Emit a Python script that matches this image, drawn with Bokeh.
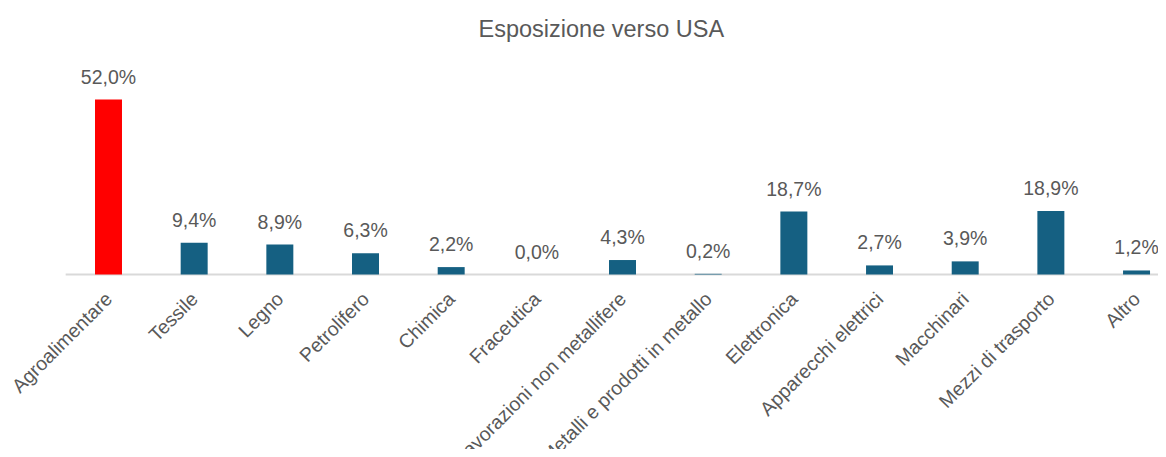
import math
from bokeh.plotting import figure
from bokeh.models import Range1d, ColumnDataSource
from bokeh.core.properties import value
from bokeh.embed import file_html
from bokeh.resources import INLINE

# ---- data ----
categories = ["Agroalimentare", "Tessile", "Legno", "Petrolifero", "Chimica",
              "Fraceutica", "Lavorazioni non metallifere",
              "Metalli e prodotti in metallo", "Elettronica",
              "Apparecchi elettrici", "Macchinari", "Mezzi di trasporto", "Altro"]
values = [52.0, 9.4, 8.9, 6.3, 2.2, 0.0, 4.3, 0.2, 18.7, 2.7, 3.9, 18.9, 1.2]
title_text = "Esposizione verso USA"

# ---- styles ----
FONT = "Liberation Sans"
TXT = "#595959"
RED = "#FF0000"
BLUE = "#156082"

n = len(categories)
xs = list(range(n))
labels = [f"{v:.1f}".replace(".", ",") + "%" for v in values]
colors = [RED if i == 0 else BLUE for i in range(n)]

src = ColumnDataSource(dict(x=xs, v=values, lab=labels, cat=categories, color=colors))

W, H = 1158, 449
px_per_cat = 85.67
first_center = 108
x_start = -first_center / px_per_cat
x_end = x_start + W / px_per_cat
top_border = 46
base_y = 274
s = 3.365
y_end = (base_y - top_border) / s
y_start = y_end - (H - top_border) / s

p = figure(width=W, height=H, x_range=Range1d(x_start, x_end), y_range=Range1d(y_start, y_end),
           output_backend="svg", toolbar_location=None, min_border=0,
           min_border_top=top_border, title=title_text)
p.title.align = "left"
p.title.offset = 478
p.title.text_font = FONT
p.title.text_font_size = "23.5px"
p.title.text_font_style = "normal"
p.title.text_color = TXT
p.axis.visible = False
p.grid.visible = False
p.outline_line_color = None
p.background_fill_color = "white"
p.border_fill_color = "white"

# baseline (category axis line)
p.segment(x0=-0.5, y0=0, x1=x_end, y1=0, line_color="#D9D9D9", line_width=2)

p.vbar(x="x", top="v", bottom=0, width=0.315, fill_color="color", line_color=None, source=src)

p.text(x="x", y="v", text="lab", source=src, text_align="center", text_baseline="middle",
       y_offset=-23, text_font=value(FONT), text_font_size="19.5px", text_color=TXT)

p.text(x="x", y=0, text="cat", source=src, angle=math.pi / 4, text_align="right",
       text_baseline="middle", x_offset=0, y_offset=21, text_font=value(FONT),
       text_font_size="19.5px", text_color=TXT)

open("out.html", "w").write(file_html(p, INLINE))
